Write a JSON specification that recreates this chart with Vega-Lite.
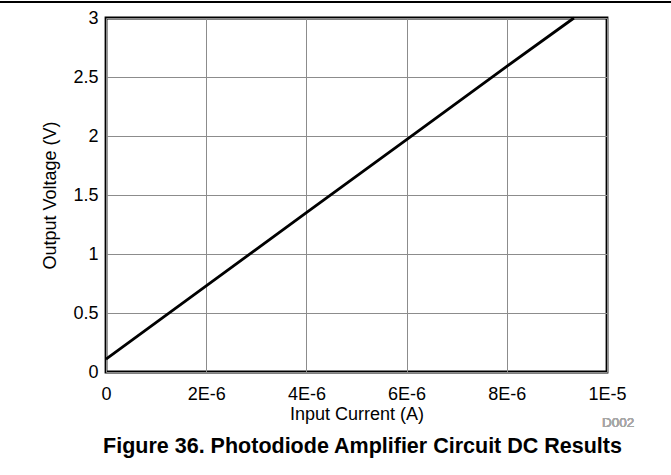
{
  "$schema": "https://vega.github.io/schema/vega-lite/v6.json",
  "width": 501,
  "height": 354,
  "autosize": {"type": "none"},
  "padding": {"left": 106, "top": 18, "right": 64, "bottom": 103},
  "background": "white",
  "config": {
    "font": "Liberation Sans",
    "view": {"stroke": "black", "strokeWidth": 2.8},
    "axis": {
      "labelFont": "Liberation Sans",
      "titleFont": "Liberation Sans",
      "labelColor": "black",
      "titleColor": "black",
      "titleFontWeight": "normal",
      "labelFontSize": 18,
      "titleFontSize": 18,
      "domain": false,
      "ticks": false,
      "labelFlush": false,
      "gridColor": "#8c8c8c",
      "gridWidth": 1,
      "gridOpacity": 1
    }
  },
  "title": {
    "text": "Figure 36. Photodiode Amplifier Circuit DC Results",
    "orient": "bottom",
    "anchor": "middle",
    "font": "Liberation Sans",
    "fontSize": 21.5,
    "fontWeight": "bold",
    "color": "black",
    "offset": 7,
    "dx": 6
  },
  "data": {
    "values": [
      {"current": 0, "voltage": 0.11},
      {"current": 2e-6, "voltage": 0.73},
      {"current": 4e-6, "voltage": 1.35},
      {"current": 6e-6, "voltage": 1.97},
      {"current": 8e-6, "voltage": 2.59},
      {"current": 9.34e-6, "voltage": 3.0}
    ]
  },
  "layer": [
    {
      "mark": {"type": "line", "color": "black", "strokeWidth": 2.8},
      "encoding": {
        "x": {
          "field": "current",
          "type": "quantitative",
          "title": "Input Current (A)",
          "scale": {"domain": [0, 1e-5], "nice": false, "zero": false},
          "axis": {
            "values": [0, 2e-6, 4e-6, 6e-6, 8e-6, 1e-5],
            "labelExpr": "datum.value === 0 ? '0' : replace(format(datum.value, '.0e'), 'e', 'E')",
            "labelPadding": 13,
            "titlePadding": 2
          }
        },
        "y": {
          "field": "voltage",
          "type": "quantitative",
          "title": "Output Voltage (V)",
          "scale": {"domain": [0, 3], "nice": false, "zero": false},
          "axis": {
            "values": [0, 0.5, 1, 1.5, 2, 2.5, 3],
            "format": ".2~f",
            "labelPadding": 8,
            "titlePadding": 13
          }
        }
      }
    },
    {
      "mark": {"type": "text", "text": "D002", "fontSize": 13.5, "color": "#a6a6a6", "font": "Liberation Sans", "baseline": "middle", "align": "center"},
      "encoding": {
        "x": {"datum": 1.022e-5, "type": "quantitative"},
        "y": {"datum": -0.432, "type": "quantitative"}
      }
    },
    {
      "mark": {"type": "rule", "color": "black", "strokeWidth": 2, "clip": false},
      "encoding": {
        "x": {"datum": -2.116e-6, "type": "quantitative"},
        "x2": {"datum": 1.1277e-5},
        "y": {"datum": 3.136, "type": "quantitative"}
      }
    }
  ]
}
